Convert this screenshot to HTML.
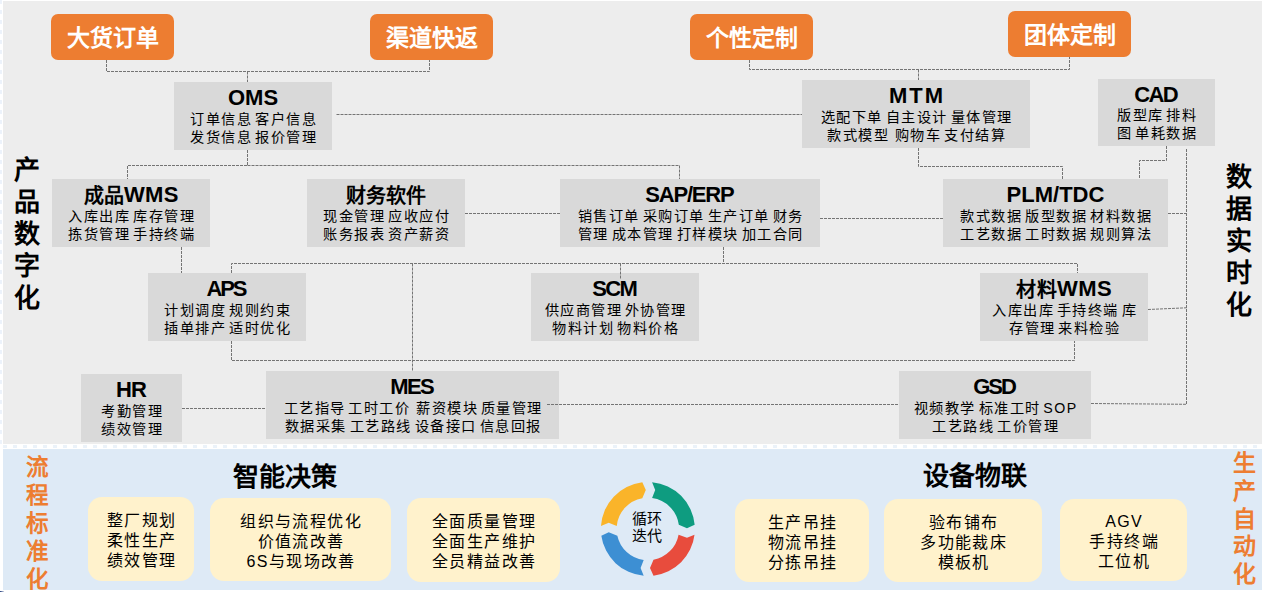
<!DOCTYPE html>
<html lang="zh-CN"><head><meta charset="utf-8"><title>diagram</title>
<style>
html,body{margin:0;padding:0;}
body{width:1262px;height:592px;position:relative;overflow:hidden;background:#fff;font-family:"Liberation Sans",sans-serif;color:#000;}
.abs{position:absolute;}
.top{left:3px;top:1px;width:1259px;height:443px;background:#EDEDED;}
.bot{left:3px;top:449px;width:1259px;height:140.6px;background:#DEEAF6;}
.stripe{left:3px;top:444.5px;width:1259px;height:3.5px;background:repeating-linear-gradient(90deg,rgba(222,234,246,.6) 0 4px,transparent 4px 10px);}
.gb{position:absolute;background:#D9D9D9;text-align:center;white-space:nowrap;}
.gb .t{position:absolute;left:0;right:0;font-weight:900;font-size:22px;line-height:20px;}
.gb .t .c{font-size:20px;position:relative;top:1px;}
.gb .l{position:absolute;left:0;right:0;font-size:14.2px;line-height:18px;letter-spacing:1.5px;text-indent:1.5px;word-spacing:-2.6px;white-space:pre;}
.ob{position:absolute;background:#ED7D31;border-radius:7px;color:#fff;font-weight:900;font-size:23px;text-align:center;white-space:nowrap;}
.yb{position:absolute;background:#FFF2CC;border-radius:14px;text-align:center;white-space:nowrap;font-size:16px;line-height:20px;letter-spacing:1.4px;text-indent:1.4px;}
.vt{position:absolute;font-weight:900;text-align:center;}
.vt div{display:block;}
svg{position:absolute;left:0;top:0;}
</style></head><body>
<div class="abs top"></div>
<div class="abs stripe"></div>
<div class="abs bot"></div>
<div class="abs" style="left:0;top:591px;width:4px;height:1px;background:linear-gradient(90deg,#1F3A7A,rgba(31,58,122,0.2))"></div>

<div class="abs" style="left:0;top:0;width:2px;height:444px;background:repeating-linear-gradient(180deg,rgba(215,228,246,.45) 0 4px,transparent 4px 10px);"></div>
<div class="gb" style="left:174px;top:82px;width:158px;height:68px"><div class="t" style="top:6.0px;letter-spacing:0px;text-indent:0px">OMS</div><div class="l" style="top:27.75px">订单信息 客户信息</div><div class="l" style="top:45.75px">发货信息 报价管理</div></div>
<div class="gb" style="left:802px;top:80px;width:228px;height:68px"><div class="t" style="top:6.0px;letter-spacing:2px;text-indent:2px">MTM</div><div class="l" style="top:27.75px">选配下单 自主设计 量体管理</div><div class="l" style="top:45.75px">款式模型  购物车 支付结算</div></div>
<div class="gb" style="left:1098px;top:79px;width:117px;height:67px"><div class="t" style="top:6.0px;letter-spacing:-1.6px;text-indent:-1.6px">CAD</div><div class="l" style="top:27.0px">版型库 排料</div><div class="l" style="top:45.0px">图 单耗数据</div></div>
<div class="gb" style="left:52px;top:179px;width:158px;height:68px"><div class="t" style="top:6.0px;letter-spacing:0.25px;text-indent:0.25px"><span class="c">成品</span>WMS</div><div class="l" style="top:27.75px">入库出库 库存管理</div><div class="l" style="top:45.75px">拣货管理 手持终端</div></div>
<div class="gb" style="left:307px;top:179px;width:158px;height:68px"><div class="t" style="top:6.0px;letter-spacing:0px;text-indent:0px"><span class="c">财务软件</span></div><div class="l" style="top:27.75px">现金管理 应收应付</div><div class="l" style="top:45.75px">账务报表 资产薪资</div></div>
<div class="gb" style="left:560px;top:179px;width:260px;height:68px"><div class="t" style="top:6.0px;letter-spacing:-1.2px;text-indent:-1.2px">SAP/ERP</div><div class="l" style="top:27.75px">销售订单 采购订单 生产订单 财务</div><div class="l" style="top:45.75px">管理 成本管理 打样模块 加工合同</div></div>
<div class="gb" style="left:943px;top:179px;width:225px;height:68px"><div class="t" style="top:6.0px;letter-spacing:0px;text-indent:0px">PLM/TDC</div><div class="l" style="top:27.75px">款式数据 版型数据 材料数据</div><div class="l" style="top:45.75px">工艺数据 工时数据 规则算法</div></div>
<div class="gb" style="left:148px;top:273px;width:158px;height:68px"><div class="t" style="top:6.0px;letter-spacing:-2.2px;text-indent:-2.2px">APS</div><div class="l" style="top:27.75px">计划调度 规则约束</div><div class="l" style="top:45.75px">插单排产 适时优化</div></div>
<div class="gb" style="left:531px;top:273px;width:168px;height:68px"><div class="t" style="top:6.0px;letter-spacing:-1.6px;text-indent:-1.6px">SCM</div><div class="l" style="top:27.75px">供应商管理 外协管理</div><div class="l" style="top:45.75px">物料计划 物料价格</div></div>
<div class="gb" style="left:980px;top:273px;width:168px;height:68px"><div class="t" style="top:6.0px;letter-spacing:0.4px;text-indent:0.4px"><span class="c">材料</span>WMS</div><div class="l" style="top:27.75px">入库出库 手持终端 库</div><div class="l" style="top:45.75px">存管理 来料检验</div></div>
<div class="gb" style="left:81px;top:374px;width:101px;height:68px"><div class="t" style="top:6.0px;letter-spacing:-0.8px;text-indent:-0.8px">HR</div><div class="l" style="top:27.75px">考勤管理</div><div class="l" style="top:45.75px">绩效管理</div></div>
<div class="gb" style="left:266px;top:371px;width:293px;height:68px"><div class="t" style="top:6.0px;letter-spacing:-1.7px;text-indent:-1.7px">MES</div><div class="l" style="top:27.75px">工艺指导 工时工价  薪资模块 质量管理</div><div class="l" style="top:45.75px">数据采集 工艺路线 设备接口 信息回报</div></div>
<div class="gb" style="left:899px;top:371px;width:192px;height:68px"><div class="t" style="top:6.0px;letter-spacing:-2px;text-indent:-2px">GSD</div><div class="l" style="top:27.75px">视频教学 标准工时 SOP</div><div class="l" style="top:45.75px">工艺路线 工价管理</div></div>
<div class="ob" style="left:51px;top:14px;width:123px;height:46px;line-height:48px">大货订单</div>
<div class="ob" style="left:370px;top:14px;width:123px;height:46px;line-height:48px">渠道快返</div>
<div class="ob" style="left:690px;top:14px;width:123px;height:46px;line-height:48px">个性定制</div>
<div class="ob" style="left:1008px;top:11px;width:123px;height:46px;line-height:48px">团体定制</div>
<div class="yb" style="left:88px;top:497px;width:106px;height:84px;"><div style="padding-top:14.0px"><div>整厂规划</div><div>柔性生产</div><div>绩效管理</div></div></div>
<div class="yb" style="left:210px;top:498px;width:181px;height:83px;"><div style="padding-top:13.5px"><div>组织与流程优化</div><div>价值流改善</div><div>6S与现场改善</div></div></div>
<div class="yb" style="left:407px;top:498px;width:153px;height:84px;"><div style="padding-top:14.0px"><div>全面质量管理</div><div>全面生产维护</div><div>全员精益改善</div></div></div>
<div class="yb" style="left:735px;top:499px;width:134px;height:83px;"><div style="padding-top:13.5px"><div>生产吊挂</div><div>物流吊挂</div><div>分拣吊挂</div></div></div>
<div class="yb" style="left:884px;top:499px;width:158px;height:83px;"><div style="padding-top:13.5px"><div>验布铺布</div><div>多功能裁床</div><div>模板机</div></div></div>
<div class="yb" style="left:1060px;top:499px;width:127px;height:82px;"><div style="padding-top:13.0px"><div>AGV</div><div>手持终端</div><div>工位机</div></div></div>
<div class="vt" style="left:12px;top:154px;width:30px;font-size:26px;color:#000"><div style="height:32px;line-height:32px">产</div><div style="height:32px;line-height:32px">品</div><div style="height:32px;line-height:32px">数</div><div style="height:32px;line-height:32px">字</div><div style="height:32px;line-height:32px">化</div></div>
<div class="vt" style="left:1224px;top:161px;width:30px;font-size:26px;color:#000"><div style="height:32px;line-height:32px">数</div><div style="height:32px;line-height:32px">据</div><div style="height:32px;line-height:32px">实</div><div style="height:32px;line-height:32px">时</div><div style="height:32px;line-height:32px">化</div></div>
<div class="vt" style="left:24px;top:453.6px;width:26.5px;font-size:22.5px;color:#ED7D31"><div style="height:28px;line-height:28px">流</div><div style="height:28px;line-height:28px">程</div><div style="height:28px;line-height:28px">标</div><div style="height:28px;line-height:28px">准</div><div style="height:28px;line-height:28px">化</div></div>
<div class="vt" style="left:1231px;top:450.2px;width:27px;font-size:23px;color:#ED7D31"><div style="height:27.7px;line-height:27.7px">生</div><div style="height:27.7px;line-height:27.7px">产</div><div style="height:27.7px;line-height:27.7px">自</div><div style="height:27.7px;line-height:27.7px">动</div><div style="height:27.7px;line-height:27.7px">化</div></div>
<div class="abs" style="left:233px;top:461.5px;font-size:26px;line-height:30px;font-weight:900">智能决策</div>
<div class="abs" style="left:923px;top:460.5px;font-size:26px;line-height:30px;font-weight:900">设备物联</div>
<svg width="1262" height="592" viewBox="0 0 1262 592">
<polyline points="106.5,60 106.5,71.5 429.5,71.5 429.5,60" fill="none" stroke="#747474" stroke-width="1" stroke-dasharray="3 1"/>
<polyline points="247.5,71.5 247.5,82" fill="none" stroke="#747474" stroke-width="1" stroke-dasharray="3 1"/>
<polyline points="749.5,60 749.5,69.5 1069.5,69.5 1069.5,57" fill="none" stroke="#747474" stroke-width="1" stroke-dasharray="3 1"/>
<polyline points="918.5,69.5 918.5,80" fill="none" stroke="#747474" stroke-width="1" stroke-dasharray="3 1"/>
<polyline points="336.5,114.5 802,114.5" fill="none" stroke="#747474" stroke-width="1" stroke-dasharray="3 1"/>
<polyline points="247.5,150 247.5,165.5 127.5,165.5 127.5,179" fill="none" stroke="#747474" stroke-width="1" stroke-dasharray="3 1"/>
<polyline points="247.5,165.5 679.5,165.5 679.5,179" fill="none" stroke="#747474" stroke-width="1" stroke-dasharray="3 1"/>
<polyline points="918.5,148 918.5,166.5 1062.5,166.5 1062.5,179" fill="none" stroke="#747474" stroke-width="1" stroke-dasharray="3 1"/>
<polyline points="1166.5,146 1166.5,160.5 1139.5,160.5 1139.5,179" fill="none" stroke="#747474" stroke-width="1" stroke-dasharray="3 1"/>
<polyline points="465,213.5 560,213.5" fill="none" stroke="#747474" stroke-width="1" stroke-dasharray="3 1"/>
<polyline points="820,218.5 943,218.5" fill="none" stroke="#747474" stroke-width="1" stroke-dasharray="3 1"/>
<polyline points="1168,213.5 1186.5,213.5" fill="none" stroke="#747474" stroke-width="1" stroke-dasharray="3 1"/>
<polyline points="1186.5,149 1186.5,404.5" fill="none" stroke="#747474" stroke-width="1" stroke-dasharray="3 1"/>
<polyline points="181.5,247 181.5,273" fill="none" stroke="#747474" stroke-width="1" stroke-dasharray="3 1"/>
<polyline points="723.5,247 723.5,263.5" fill="none" stroke="#747474" stroke-width="1" stroke-dasharray="3 1"/>
<polyline points="231.5,273 231.5,263.5 1077.5,263.5 1077.5,273" fill="none" stroke="#747474" stroke-width="1" stroke-dasharray="3 1"/>
<polyline points="620.5,263.5 620.5,279" fill="none" stroke="#747474" stroke-width="1" stroke-dasharray="3 1"/>
<polyline points="412.5,263.5 412.5,371" fill="none" stroke="#747474" stroke-width="1" stroke-dasharray="3 1"/>
<polyline points="231.5,341 231.5,360.5 1074.5,360.5 1074.5,341" fill="none" stroke="#747474" stroke-width="1" stroke-dasharray="3 1"/>
<polyline points="1148,309.5 1186.5,307.8" fill="none" stroke="#747474" stroke-width="1" stroke-dasharray="3 1"/>
<polyline points="182,408.5 266,408.5" fill="none" stroke="#747474" stroke-width="1" stroke-dasharray="3 1"/>
<polyline points="547,404.5 899,404.5" fill="none" stroke="#747474" stroke-width="1" stroke-dasharray="3 1"/>
<polyline points="1091,403.5 1187,404.3" fill="none" stroke="#747474" stroke-width="1" stroke-dasharray="3 1"/>
<path d="M652.10,482.19 A47.0,47.0 0 0 1 694.67,524.85 L686.98,528.35 L678.82,524.85 A31.25,31.25 0 0 0 652.10,498.04 L655.20,489.88 Z" fill="#0E9C80"/>
<path d="M694.51,534.65 A47.0,47.0 0 0 1 653.50,575.66 L650.00,568.12 L653.50,559.73 A31.25,31.25 0 0 0 678.58,534.65 L686.98,537.75 Z" fill="#E84C3D"/>
<path d="M643.70,575.82 A47.0,47.0 0 0 1 601.33,535.70 L608.73,532.20 L617.33,535.70 A31.25,31.25 0 0 0 643.70,559.97 L640.60,568.12 Z" fill="#3D8FD3"/>
<path d="M600.95,525.90 A47.0,47.0 0 0 1 642.30,482.33 L645.80,489.88 L642.30,498.25 A31.25,31.25 0 0 0 616.75,525.90 L608.73,522.80 Z" fill="#FAB42A"/>
</svg>
<div class="abs" style="left:617px;top:509.5px;width:60px;text-align:center;font-size:15px;line-height:17px">循环<br>迭代</div>
</body></html>
